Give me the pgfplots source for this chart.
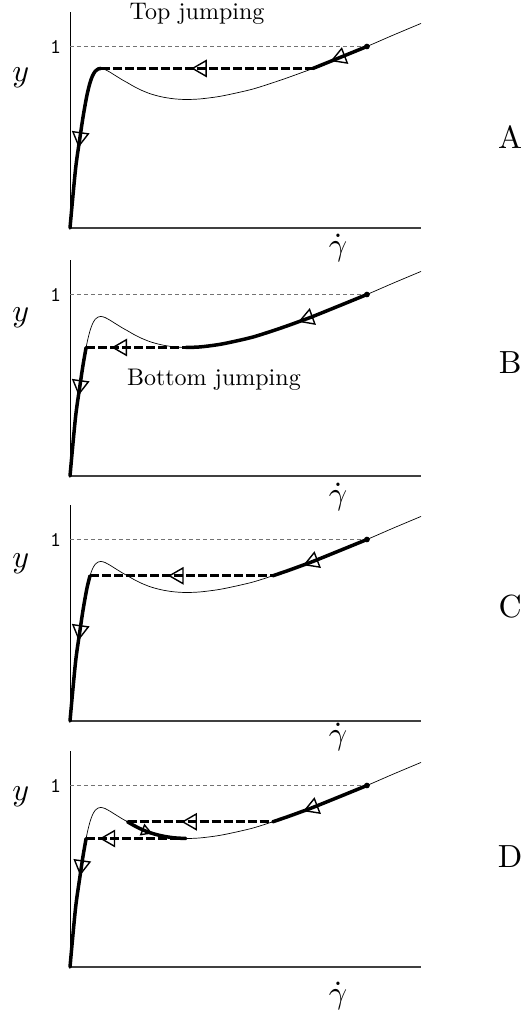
\documentclass[border=0pt]{standalone}
\usepackage{pgfplots}
\pgfplotsset{compat=1.18}
\usepackage{pgfplotstable}

% Non-monotonic flow curve y(gamma-dot)
\pgfplotstableread{
x y
0      0
0.008  0.170
0.017  0.345
0.0285 0.500
0.037  0.610
0.0459 0.708
0.051  0.755
0.057  0.800
0.064  0.838
0.072  0.864
0.080  0.876
0.088  0.879
0.100  0.873
0.115  0.857
0.134  0.834
0.150  0.815
0.164  0.800
0.179  0.783
0.200  0.762
0.228  0.740
0.260  0.723
0.295  0.712
0.330  0.708
0.370  0.711
0.420  0.723
0.460  0.738
0.520  0.765
0.5776 0.800
0.620  0.828
0.660  0.856
0.692  0.879
0.770  0.940
0.846  1.000
0.920  1.062
1.000  1.127
}\flowcurve

% rising branch up to the maximum
\pgfplotstableread{
x y
0      0
0.008  0.170
0.017  0.345
0.0285 0.500
0.037  0.610
0.0459 0.708
0.051  0.755
0.057  0.800
0.064  0.838
0.072  0.864
0.080  0.876
0.088  0.879
}\riseFull

% rising branch up to the level of the minimum
\pgfplotstableread{
x y
0      0
0.008  0.170
0.017  0.345
0.0285 0.500
0.037  0.610
0.0459 0.708
}\riseLow

% rising branch up to the intermediate level
\pgfplotstableread{
x y
0      0
0.008  0.170
0.017  0.345
0.0285 0.500
0.037  0.610
0.0459 0.708
0.051  0.755
0.057  0.800
}\riseMid

% high-rate branch, from the level of the maximum
\pgfplotstableread{
x y
0.692  0.879
0.770  0.940
0.846  1.000
}\upperTop

% high-rate branch, from the intermediate level
\pgfplotstableread{
x y
0.5776 0.800
0.620  0.828
0.660  0.856
0.692  0.879
0.770  0.940
0.846  1.000
}\upperMid

% high-rate branch, from the minimum
\pgfplotstableread{
x y
0.330  0.708
0.370  0.711
0.420  0.723
0.460  0.738
0.520  0.765
0.5776 0.800
0.620  0.828
0.660  0.856
0.692  0.879
0.770  0.940
0.846  1.000
}\upperMin

% decreasing (unstable) branch, intermediate level down to the minimum
\pgfplotstableread{
x y
0.164  0.800
0.179  0.783
0.200  0.762
0.228  0.740
0.260  0.723
0.295  0.712
0.330  0.708
}\unstable

\pgfplotsset{
  panel/.style={
    scale only axis, width=351pt, height=216pt,
    anchor=south west,
    xmin=0, xmax=1, ymin=0, ymax=1.19,
    axis x line=bottom, axis y line=left,
    axis line style={-},
    x axis line style={line width=1.6pt, black!75},
    y axis line style={line width=0.9pt, black},
    xtick=\empty, ytick={1}, yticklabels={},
    major tick length=0pt,
    clip=false,
  },
  thin/.style={black, line width=0.7pt, smooth, tension=0.5},
  thick/.style={black, line width=3.5pt, smooth, tension=0.5, line cap=round},
  jump/.style={black, line width=3.1pt, dash pattern=on 9pt off 3pt},
  unity/.style={black!55, line width=0.6pt, dash pattern=on 4pt off 3pt},
  dir/.style={only marks, black, mark=triangle, mark size=9pt,
    mark options={solid, line width=1.4pt, rotate=#1}},
  enddot/.style={only marks, black, mark=*, mark size=2.6pt},
}
% label of the unit level on the y axis
\tikzset{onelabel/.style={scale=2.1, anchor=east, inner sep=0pt, xshift=-4pt}}

\begin{document}
\begin{tikzpicture}
\useasboundingbox (0,0) rectangle (523pt,-1014pt);

% ---------------- A: top jumping ----------------
\begin{axis}[panel, at={(70pt,-228pt)}]
  \addplot[unity] coordinates {(0,1) (0.846,1)};
  \addplot[thin] table {\flowcurve};
  \addplot[thick] table {\riseFull};
  \addplot[jump] coordinates {(0.088,0.879) (0.692,0.879)};
  \addplot[thick] table {\upperTop};
  \addplot[enddot] coordinates {(0.846,1)};
  \addplot[dir=172] coordinates {(0.0285,0.50)};
  \addplot[dir=90] coordinates {(0.375,0.879)};
  \addplot[dir=111] coordinates {(0.770,0.940)};
  \node[onelabel] at (axis cs:0,1) {\texttt{1}};
  \node[scale=2.4, anchor=base] at (axis cs:0.362,1.149) {Top jumping};
  \node[scale=3.2] at (axis cs:-0.14,0.83) {$y$};
  \node[scale=3.2] at (axis cs:0.764,-0.11) {$\dot{\gamma}$};
  \node[scale=3.2] at (axis cs:1.254,0.50) {A};
\end{axis}

% ---------------- B: bottom jumping ----------------
\begin{axis}[panel, at={(70pt,-476pt)}]
  \addplot[unity] coordinates {(0,1) (0.846,1)};
  \addplot[thin] table {\flowcurve};
  \addplot[thick] table {\riseLow};
  \addplot[jump] coordinates {(0.0459,0.708) (0.330,0.708)};
  \addplot[thick] table {\upperMin};
  \addplot[enddot] coordinates {(0.846,1)};
  \addplot[dir=172] coordinates {(0.0285,0.50)};
  \addplot[dir=90] coordinates {(0.148,0.708)};
  \addplot[dir=110] coordinates {(0.678,0.869)};
  \node[onelabel] at (axis cs:0,1) {\texttt{1}};
  \node[scale=2.4, anchor=base] at (axis cs:0.41,0.50) {Bottom jumping};
  \node[scale=3.2] at (axis cs:-0.14,0.874) {$y$};
  \node[scale=3.2] at (axis cs:0.764,-0.115) {$\dot{\gamma}$};
  \node[scale=3.2] at (axis cs:1.254,0.626) {B};
\end{axis}

% ---------------- C: intermediate jump ----------------
\begin{axis}[panel, at={(70pt,-721pt)}]
  \addplot[unity] coordinates {(0,1) (0.846,1)};
  \addplot[thin] table {\flowcurve};
  \addplot[thick] table {\riseMid};
  \addplot[jump] coordinates {(0.057,0.800) (0.5776,0.800)};
  \addplot[thick] table {\upperMid};
  \addplot[enddot] coordinates {(0.846,1)};
  \addplot[dir=172] coordinates {(0.0285,0.50)};
  \addplot[dir=90] coordinates {(0.309,0.800)};
  \addplot[dir=111] coordinates {(0.692,0.879)};
  \node[onelabel] at (axis cs:0,1) {\texttt{1}};
  \node[scale=3.2] at (axis cs:-0.14,0.865) {$y$};
  \node[scale=3.2] at (axis cs:0.764,-0.09) {$\dot{\gamma}$};
  \node[scale=3.2] at (axis cs:1.254,0.63) {C};
\end{axis}

% ---------------- D: two-step jump ----------------
\begin{axis}[panel, at={(70pt,-967pt)}]
  \addplot[unity] coordinates {(0,1) (0.846,1)};
  \addplot[thin] table {\flowcurve};
  \addplot[thick] table {\riseLow};
  \addplot[jump] coordinates {(0.0459,0.708) (0.330,0.708)};
  \addplot[thick] table {\unstable};
  \addplot[jump] coordinates {(0.164,0.800) (0.5776,0.800)};
  \addplot[thick] table {\upperMid};
  \addplot[enddot] coordinates {(0.846,1)};
  \addplot[dir=172] coordinates {(0.033,0.56)};
  \addplot[dir=90] coordinates {(0.114,0.708)};
  \addplot[dir=90] coordinates {(0.347,0.800)};
  \addplot[dir=-111, mark size=6pt] coordinates {(0.215,0.750)};
  \addplot[dir=111] coordinates {(0.692,0.879)};
  \node[onelabel] at (axis cs:0,1) {\texttt{1}};
  \node[scale=3.2] at (axis cs:-0.14,0.94) {$y$};
  \node[scale=3.2] at (axis cs:0.764,-0.162) {$\dot{\gamma}$};
  \node[scale=3.2] at (axis cs:1.254,0.61) {D};
\end{axis}
\end{tikzpicture}
\end{document}
